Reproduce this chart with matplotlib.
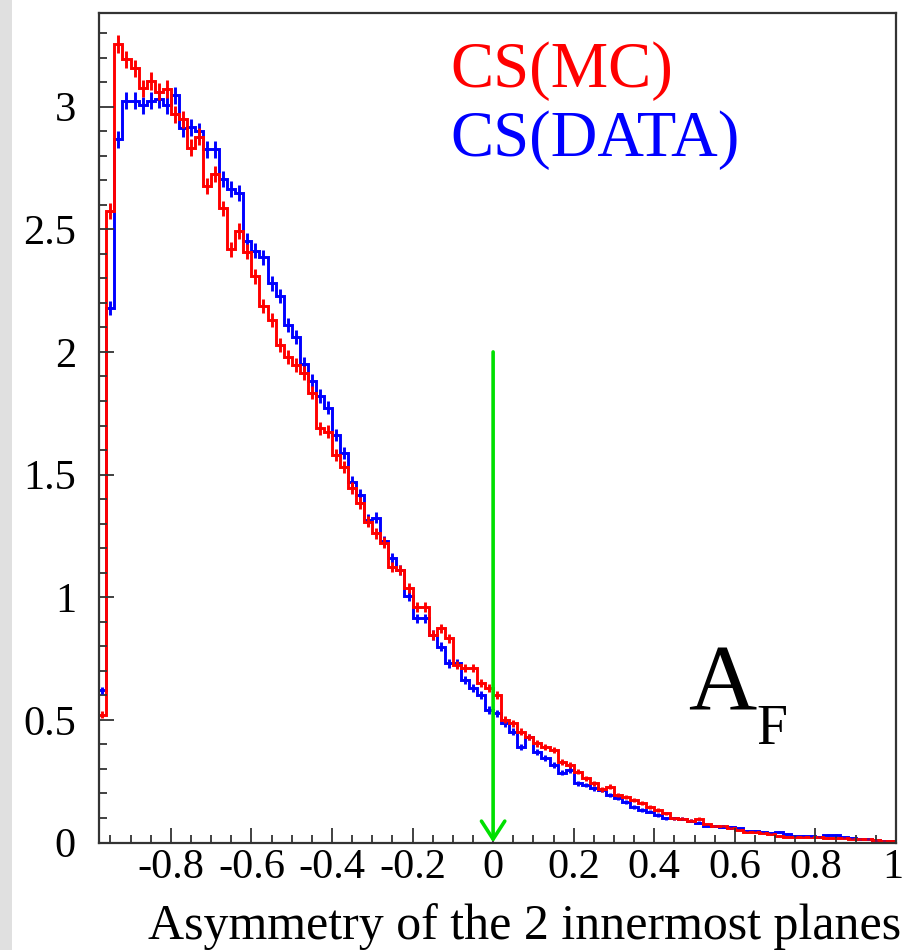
import numpy as np
import matplotlib
matplotlib.use("Agg")
import matplotlib.pyplot as plt
from matplotlib.patches import Rectangle
from matplotlib.ticker import MultipleLocator, FuncFormatter, FormatStrFormatter
from matplotlib.transforms import offset_copy

plt.rcParams['font.family'] = ['Liberation Serif', 'DejaVu Serif']
plt.rcParams['axes.unicode_minus'] = False

# ---------------- data ----------------
bin_low = -0.98
bin_high = 1.0
n_bins = 99

mc_values = [
    0.52, 2.576, 3.255, 3.193, 3.156, 3.075, 3.104, 3.061, 3.072, 2.969,
    2.949, 2.833, 2.877, 2.678, 2.725, 2.585, 2.418, 2.494, 2.409, 2.309,
    2.187, 2.13, 2.03, 1.98, 1.947, 1.913, 1.834, 1.689, 1.675, 1.58,
    1.532, 1.444, 1.385, 1.308, 1.26, 1.222, 1.124, 1.111, 1.036, 0.961,
    0.961, 0.846, 0.873, 0.832, 0.724, 0.71, 0.71, 0.649, 0.629, 0.601,
    0.50, 0.486, 0.452, 0.431, 0.404, 0.39, 0.377, 0.329, 0.316, 0.289,
    0.262, 0.241, 0.217, 0.228, 0.194, 0.187, 0.173, 0.16, 0.145, 0.132,
    0.119, 0.099, 0.096, 0.089, 0.096, 0.075, 0.067, 0.067, 0.058, 0.051,
    0.044, 0.044, 0.040, 0.035, 0.028, 0.024, 0.021, 0.021, 0.021, 0.021,
    0.019, 0.017, 0.017, 0.015, 0.014, 0.013, 0.010, 0.008, 0.006,
]

data_values = [
    0.62, 2.18, 2.867, 3.024, 3.024, 3.006, 3.024, 3.030, 3.006, 3.047,
    2.911, 2.915, 2.90, 2.826, 2.826, 2.704, 2.663, 2.647, 2.453, 2.413,
    2.386, 2.28, 2.228, 2.11, 2.06, 1.951, 1.881, 1.82, 1.773, 1.661,
    1.587, 1.471, 1.417, 1.315, 1.324, 1.229, 1.159, 1.111, 1.005, 0.914,
    0.914, 0.846, 0.798, 0.730, 0.730, 0.662, 0.629, 0.601, 0.54, 0.527,
    0.486, 0.452, 0.39, 0.431, 0.37, 0.343, 0.316, 0.285, 0.296, 0.241,
    0.234, 0.221, 0.214, 0.194, 0.18, 0.166, 0.146, 0.132, 0.126, 0.112,
    0.099, 0.099, 0.096, 0.089, 0.08, 0.067, 0.067, 0.065, 0.062, 0.058,
    0.048, 0.046, 0.044, 0.040, 0.044, 0.034, 0.028, 0.028, 0.026, 0.024,
    0.030, 0.030, 0.021, 0.018, 0.014, 0.014, 0.010, 0.008, 0.006,
]

# Poisson-like error scale per unit sqrt(content)
err_scale = 0.02

cut_value = 0.0
cut_arrow_top = 2.0

x_range = (-0.977, 1.0)
y_range = (0.0, 3.383)

x_label = "Asymmetry of the 2 innermost planes"
label_mc = "CS(MC)"
label_data = "CS(DATA)"

# ---------------- figure ----------------
W, H = 903, 950
fig = plt.figure(figsize=(W / 100, H / 100), dpi=100)
fig.patches.append(Rectangle((0, 0), 12 / W, 1, transform=fig.transFigure,
                             facecolor='#e0e0e0', edgecolor='none', zorder=0))

ax_l, ax_r, ax_t, ax_b = 99.5, 896.0, 12.7, 842.5
ax = fig.add_axes([ax_l / W, 1 - ax_b / H, (ax_r - ax_l) / W, (ax_b - ax_t) / H])

edges = np.linspace(bin_low, bin_high, n_bins + 1)
centers = 0.5 * (edges[:-1] + edges[1:])

for vals, col in ((data_values, '#0000ff'), (mc_values, '#ff0000')):
    v = np.asarray(vals)
    ax.stairs(v, edges, color=col, lw=2.1, baseline=0)
    ax.errorbar(centers, v, yerr=err_scale * np.sqrt(v), fmt='none',
                ecolor=col, elinewidth=2.1, capsize=0)

ax.annotate('', xy=(cut_value, 0.0), xytext=(cut_value, cut_arrow_top),
            arrowprops=dict(arrowstyle='->,head_length=0.65,head_width=0.42',
                            color='#00e000', lw=2.6, shrinkA=0, shrinkB=0,
                            mutation_scale=20))

ax.set_xlim(*x_range)
ax.set_ylim(*y_range)

tick_fs = 30.5
x_last = x_range[1]

def xfmt(val, pos):
    if abs(val - x_last) < 1e-9:
        return ''
    return '%g' % val

ax.xaxis.set_major_locator(MultipleLocator(0.2))
ax.xaxis.set_minor_locator(MultipleLocator(0.05))
ax.yaxis.set_major_locator(MultipleLocator(0.5))
ax.yaxis.set_minor_locator(MultipleLocator(0.1))
ax.xaxis.set_major_formatter(FuncFormatter(xfmt))
ax.yaxis.set_major_formatter(FormatStrFormatter('%g'))

ax.tick_params(which='both', direction='in', top=False, right=False,
               color='#333333', width=1.3, labelsize=tick_fs)
ax.tick_params(which='major', length=11)
ax.tick_params(which='minor', length=5.5)
ax.tick_params(axis='y', which='major', pad=17)
ax.tick_params(axis='x', which='major', pad=4)

# last x tick label ("1") at the right end, kept inside the picture
tr = offset_copy(ax.get_xaxis_transform(), fig=fig, x=5.5, y=-4, units='points')
ax.text(x_last, 0, '%g' % x_last, transform=tr, ha='right', va='top',
        fontsize=tick_fs, clip_on=False)

for s in ax.spines.values():
    s.set_color('#333333')
    s.set_linewidth(1.6)

fig.text(901 / W, 1 - 939 / H, x_label, ha='right', va='baseline', fontsize=36)

ax.text((450 - ax_l) / (ax_r - ax_l), (ax_b - 87) / (ax_b - ax_t), label_mc,
        color='#ff0000', fontsize=46.5, ha='left', va='baseline', transform=ax.transAxes)
ax.text((450 - ax_l) / (ax_r - ax_l), (ax_b - 156) / (ax_b - ax_t), label_data,
        color='#0000ff', fontsize=46.5, ha='left', va='baseline', transform=ax.transAxes)

ax.text((688 - ax_l) / (ax_r - ax_l), (ax_b - 710) / (ax_b - ax_t), 'A',
        color='black', fontsize=68, ha='left', va='baseline', transform=ax.transAxes)
ax.text((756 - ax_l) / (ax_r - ax_l), (ax_b - 744) / (ax_b - ax_t), 'F',
        color='black', fontsize=40, ha='left', va='baseline', transform=ax.transAxes)

fig.savefig('out.png', dpi=100)
